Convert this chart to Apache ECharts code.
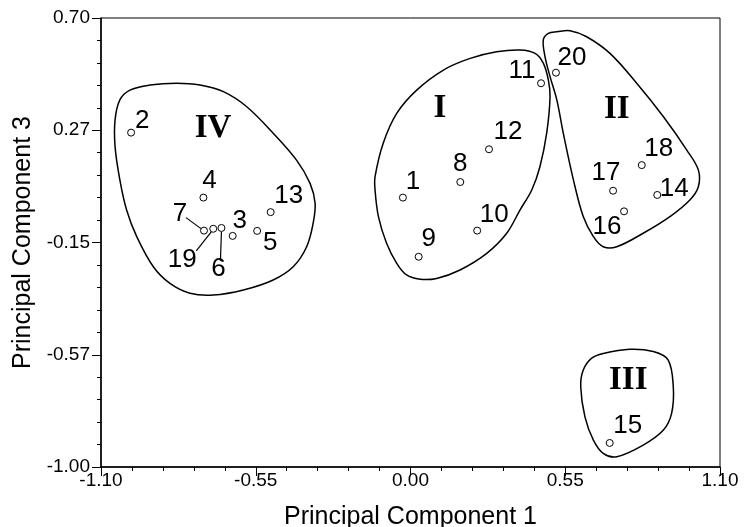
<!DOCTYPE html>
<html>
<head>
<meta charset="utf-8">
<script src="https://cdn.jsdelivr.net/npm/echarts@6/dist/echarts.min.js"></script>
<style>html,body{margin:0;padding:0;background:#fff}#chart{width:745px;height:527px}</style>
</head>
<body>
<div id="chart"></div>
<script>
// ---- data ----
const pointIds = [1,2,3,4,5,6,7,8,9,10,11,12,13,14,15,16,17,18,19,20];
const pc1 = [-0.027,-0.993,-0.632,-0.736,-0.545,-0.672,-0.734,0.177,0.029,0.237,0.464,0.279,-0.497,0.877,0.708,0.759,0.720,0.822,-0.701,0.517];
const pc3 = [0.020,0.266,-0.125,0.020,-0.106,-0.095,-0.105,0.079,-0.204,-0.105,0.453,0.203,-0.035,0.030,-0.909,-0.032,0.046,0.143,-0.098,0.493];

const clusterNames = ['I','II','III','IV'];
const clusterPc1 = [0.105, 0.733, 0.774, -0.702];
const clusterPc3 = [0.358, 0.352, -0.672, 0.280];

const outlineI = [[0.389,0.579],[0.443,0.566],[0.472,0.529],[0.490,0.465],[0.496,0.402],[0.484,0.264],[0.460,0.137],[0.431,0.049],[0.389,-0.027],[0.342,-0.115],[0.271,-0.191],[0.176,-0.254],[0.093,-0.286],[0.034,-0.289],[-0.014,-0.273],[-0.049,-0.229],[-0.085,-0.153],[-0.114,-0.052],[-0.126,0.049],[-0.126,0.099],[-0.097,0.226],[-0.049,0.339],[0.022,0.427],[0.117,0.503],[0.212,0.547],[0.306,0.572]];
const outlineII = [[0.490,0.642],[0.520,0.648],[0.567,0.652],[0.626,0.629],[0.709,0.566],[0.804,0.453],[0.899,0.326],[0.982,0.200],[1.023,0.125],[1.023,0.061],[0.993,0.011],[0.922,-0.052],[0.827,-0.115],[0.733,-0.166],[0.685,-0.166],[0.650,-0.128],[0.614,-0.052],[0.579,0.087],[0.543,0.264],[0.520,0.390],[0.496,0.478],[0.478,0.554],[0.472,0.617]];
const outlineIII = [[0.685,-0.570],[0.780,-0.554],[0.863,-0.563],[0.916,-0.595],[0.934,-0.696],[0.928,-0.797],[0.899,-0.860],[0.827,-0.917],[0.733,-0.961],[0.685,-0.948],[0.650,-0.898],[0.620,-0.810],[0.605,-0.696],[0.614,-0.633],[0.644,-0.588]];
const outlineIV = [[-1.033,0.390],[-0.997,0.427],[-0.926,0.446],[-0.831,0.453],[-0.748,0.446],[-0.665,0.421],[-0.582,0.364],[-0.488,0.264],[-0.405,0.162],[-0.357,0.074],[-0.339,-0.002],[-0.346,-0.077],[-0.369,-0.166],[-0.417,-0.242],[-0.488,-0.292],[-0.594,-0.330],[-0.701,-0.349],[-0.784,-0.342],[-0.855,-0.305],[-0.914,-0.242],[-0.973,-0.128],[-1.009,-0.027],[-1.033,0.087],[-1.050,0.213],[-1.050,0.314]];
const outlines = [outlineI, outlineII, outlineIII, outlineIV];

const xTickLabels = ['-1.10','-0.55','0.00','0.55','1.10'];
const yTickLabels = ['-1.00','-0.57','-0.15','0.27','0.70'];

// ---- style (pixel offsets of labels / leader lines) ----
const labelOffset = {1:[10,-16],2:[11,-12],3:[7,-15],4:[6,-17],5:[13,12],6:[-3,41],7:[-24,-17],8:[0,-18],9:[10,-18],10:[17,-16],11:[-19,-12],12:[19,-17],13:[18,-16],14:[17,-6],15:[18,-17],16:[-17,15],17:[-7,-18],18:[17,-16],19:[-31,31],20:[16,-15]};
const leaderLines = {7:[[-18,-13],[-3,-2]], 19:[[-17,22],[-2,3]], 6:[[-1,33],[0,4]]};

const FONT = '"Liberation Sans", Arial, sans-serif';
const SERIF = '"Liberation Serif", "Times New Roman", serif';

const chart = echarts.init(document.getElementById('chart'), null, {renderer: 'canvas'});

const scatterData = pointIds.map((id, i) => ({
  value: [pc1[i], pc3[i]],
  name: String(id),
  label: {offset: labelOffset[id] || [0, 0]}
}));

const clusterData = clusterNames.map((n, i) => ({value: [clusterPc1[i], clusterPc3[i]], name: n}));

const leaderIds = Object.keys(leaderLines).map(Number);

const option = {
  animation: false,
  backgroundColor: '#fff',
  grid: {left: 101, right: 25, top: 18, bottom: 60, containLabel: false, outerBoundsMode: 'none',
    show: true, borderColor: '#000', borderWidth: 1, backgroundColor: 'transparent'},
  xAxis: {
    type: 'value', min: -1.1, max: 1.1, interval: 0.55,
    name: 'Principal Component 1', nameLocation: 'middle', nameGap: 38,
    nameTextStyle: {fontFamily: FONT, fontSize: 25, color: '#000'},
    axisLine: {show: true, onZero: false, lineStyle: {color: '#000', width: 1.5}},
    axisTick: {show: true, length: 9, lineStyle: {color: '#000', width: 1}},
    minorTick: {show: true, splitNumber: 5, length: 4, lineStyle: {color: '#000', width: 1}},
    splitLine: {show: false},
    axisLabel: {fontFamily: FONT, fontSize: 19, color: '#000', margin: 4,
      formatter: v => xTickLabels[Math.round((v + 1.1) / 0.55)]}
  },
  yAxis: [{
    type: 'value', min: 0, max: 4, interval: 1,
    name: 'Principal Component 3', nameLocation: 'middle', nameGap: 62,
    nameTextStyle: {fontFamily: FONT, fontSize: 25, color: '#000'},
    axisLine: {show: true, onZero: false, lineStyle: {color: '#000', width: 1.5}},
    axisTick: {show: true, length: 9, lineStyle: {color: '#000', width: 1}},
    minorTick: {show: true, splitNumber: 5, length: 4, lineStyle: {color: '#000', width: 1}},
    splitLine: {show: false},
    axisLabel: {fontFamily: FONT, fontSize: 19, color: '#000', margin: 11,
      formatter: v => yTickLabels[Math.round(v)]}
  }, {
    type: 'value', min: -1.0, max: 0.7, show: false
  }],
  series: [{
    type: 'custom',
    xAxisIndex: 0, yAxisIndex: 1,
    silent: true,
    data: outlines.map((o, i) => [i]),
    renderItem: function (params, api) {
      const pts = outlines[params.dataIndex].map(p => api.coord(p));
      return {type: 'polygon', shape: {points: pts, smooth: 0.35},
        style: {fill: 'none', stroke: '#000', lineWidth: 1.5}};
    },
    z: 1
  }, {
    type: 'custom',
    xAxisIndex: 0, yAxisIndex: 1,
    silent: true,
    data: leaderIds.map(id => [id]),
    renderItem: function (params, api) {
      const id = leaderIds[params.dataIndex];
      const i = pointIds.indexOf(id);
      const c = api.coord([pc1[i], pc3[i]]);
      const seg = leaderLines[id];
      return {type: 'line', shape: {x1: c[0] + seg[0][0], y1: c[1] + seg[0][1], x2: c[0] + seg[1][0], y2: c[1] + seg[1][1]},
        style: {stroke: '#000', lineWidth: 1.2}};
    },
    z: 2
  }, {
    type: 'scatter',
    xAxisIndex: 0, yAxisIndex: 1,
    symbol: 'circle', symbolSize: 7,
    itemStyle: {color: '#fff', borderColor: '#000', borderWidth: 1, opacity: 1},
    label: {show: true, position: 'inside', formatter: '{b}', fontFamily: FONT, fontSize: 26, color: '#000', align: 'center', verticalAlign: 'middle'},
    emphasis: {disabled: true},
    data: scatterData,
    z: 3
  }, {
    type: 'scatter',
    xAxisIndex: 0, yAxisIndex: 1,
    symbolSize: 0,
    itemStyle: {opacity: 1, color: '#000'},
    label: {show: true, position: 'inside', formatter: '{b}', fontFamily: SERIF, fontWeight: 'bold', fontSize: 33, color: '#000', align: 'center', verticalAlign: 'middle'},
    emphasis: {disabled: true},
    data: clusterData,
    z: 3
  }]
};
chart.setOption(option);
</script>
</body>
</html>
